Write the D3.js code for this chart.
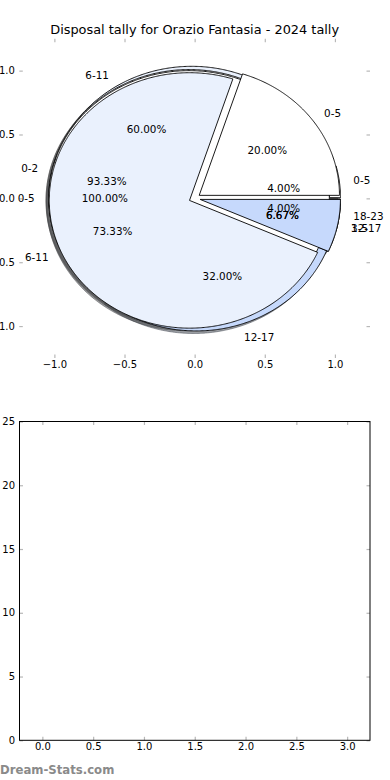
<!DOCTYPE html>
<html><head><meta charset="utf-8">
<script src="https://cdn.jsdelivr.net/npm/d3@7"></script>
<style>
body{margin:0;background:#fff}
svg{display:block}
text{font-family:"DejaVu Sans",sans-serif}
</style>
</head><body><svg id="c" width="390" height="780"></svg>
<script>
// ---------------- data ----------------
const titleText = "Disposal tally for Orazio Fantasia - 2024 tally";
// pies, listed in drawing order (bottom to top)
const pieALabels = ["0-5", "6-11", "12-17", "18-23"];
const pieAValues = [1, 15, 8, 1];
const pieBLabels = ["0-2", "3-5"];
const pieBValues = [14, 1];
const pieCLabels = ["0-5"];
const pieCValues = [1];
const pieDLabels = ["0-5", "6-11", "12-17"];
const pieDValues = [3, 11, 1];
const sliceColors = ["#ffffff", "#eaf1fd", "#c6d9fc", "#9dbdf7"];
const pieTicks = [-1.0, -0.5, 0.0, 0.5, 1.0];
const barCategories = [0, 1, 2, 3];
const barValues = [0, 0, 0, 0];
const barXTicks = [0, 0.5, 1, 1.5, 2, 2.5, 3];
const barYTicks = [0, 5, 10, 15, 20, 25];
const watermark = "Dream-Stats.com";

// ---------------- setup ----------------
const svg = d3.select("#c");
const PX0 = 19.3, PX1 = 370, PY0 = 38.7, PY1 = 358;
const xs = d3.scaleLinear().domain([-1.25, 1.25]).range([PX0, PX1]);
const ys = d3.scaleLinear().domain([-1.25, 1.25]).range([PY1, PY0]);
const EXPLODE = 0.04, SHADOW = 0.02, R = 1;
const TICKC = "#b8b8b8";

const pies = [
  {labels: pieALabels, values: pieAValues},
  {labels: pieBLabels, values: pieBValues},
  {labels: pieCLabels, values: pieCValues},
  {labels: pieDLabels, values: pieDValues}
];

const pieGen = d3.pie().sort(null).value(d => d.v)
  .startAngle(Math.PI / 2).endAngle(-1.5 * Math.PI);
const line = d3.line().x(p => xs(p[0])).y(p => ys(p[1]));

function wedgePts(cx, cy, t1, t2) {
  const full = Math.abs((t2 - t1) - 2 * Math.PI) < 1e-9;
  const n = Math.max(2, Math.ceil((t2 - t1) / (Math.PI / 360)));
  const pts = [];
  if (!full) pts.push([cx, cy]);
  for (let i = 0; i <= n; i++) {
    const t = t1 + (t2 - t1) * i / n;
    pts.push([cx + R * Math.cos(t), cy + R * Math.sin(t)]);
  }
  return pts;
}

const wedges = [];
pies.forEach((p, pi) => {
  const data = p.values.map((v, i) => ({v, label: p.labels[i], i}));
  const total = d3.sum(p.values);
  pieGen(data).forEach(a => {
    const t1 = Math.PI / 2 - a.startAngle, t2 = Math.PI / 2 - a.endAngle;
    const mid = (t1 + t2) / 2;
    const cx = EXPLODE * Math.cos(mid), cy = EXPLODE * Math.sin(mid);
    wedges.push({pi, t1, t2, mid, cx, cy, label: a.data.label,
      pct: (a.data.v / total * 100).toFixed(2) + "%",
      color: sliceColors[a.data.i % sliceColors.length]});
  });
});

// ---------------- title ----------------
svg.append("text").attr("x", (PX0 + PX1) / 2).attr("y", 34)
  .attr("text-anchor", "middle").attr("font-size", 12.9).attr("fill", "#000")
  .text(titleText);

// ---------------- pie axes ticks ----------------
const pg = svg.append("g");
function styleAxis(g) {
  g.select(".domain").remove();
  g.selectAll(".tick line").attr("stroke", TICKC).attr("stroke-width", 1.2);
  g.selectAll(".tick text").attr("fill", "#000").attr("font-size", 10)
    .attr("font-family", "DejaVu Sans, sans-serif");
}
pg.append("g").attr("transform", `translate(${PX0},0)`)
  .call(d3.axisLeft(ys).tickValues(pieTicks).tickFormat(d3.format(".1f")).tickSize(-3.5).tickPadding(4.5))
  .call(styleAxis);
pg.append("g").attr("transform", `translate(${PX1},0)`)
  .call(d3.axisRight(ys).tickValues(pieTicks).tickFormat("").tickSize(-3.5))
  .call(styleAxis);
pg.append("g").attr("transform", `translate(0,${PY0})`)
  .call(d3.axisTop(xs).tickValues(pieTicks).tickFormat("").tickSize(-3.5))
  .call(styleAxis);
pg.append("g").attr("transform", `translate(0,${PY1})`)
  .call(d3.axisBottom(xs).tickValues(pieTicks).tickFormat(d3.format(".1f")).tickSize(-3.5).tickPadding(3))
  .call(styleAxis);

// ---------------- shadows (all under all wedges) ----------------
const sg = svg.append("g");
wedges.forEach(w => {
  const c = d3.rgb(w.color);
  const sc = d3.rgb(c.r * 0.3, c.g * 0.3, c.b * 0.3);
  sg.append("path")
    .attr("d", line(wedgePts(w.cx - SHADOW, w.cy - SHADOW, w.t1, w.t2)) + (Math.abs(w.t2 - w.t1 - 2*Math.PI) < 1e-9 ? "" : "Z"))
    .attr("fill", sc).attr("fill-opacity", 0.5)
    .attr("stroke", sc).attr("stroke-opacity", 0.5).attr("stroke-width", 1);
});

// ---------------- wedges ----------------
const wg = svg.append("g");
wedges.forEach(w => {
  wg.append("path")
    .attr("d", line(wedgePts(w.cx, w.cy, w.t1, w.t2)) + "Z")
    .attr("fill", w.color)
    .attr("stroke", "#000").attr("stroke-width", 0.9).attr("stroke-linejoin", "miter");
});

// ---------------- pie texts ----------------
const tg = svg.append("g").attr("font-size", 10.4).attr("fill", "#000");
wedges.forEach(w => {
  const xt = w.cx + 1.1 * R * Math.cos(w.mid), yt = w.cy + 1.1 * R * Math.sin(w.mid);
  tg.append("text").attr("x", xs(xt)).attr("y", ys(yt))
    .attr("dy", "0.36em")
    .attr("text-anchor", xt > 0 ? "start" : "end").text(w.label);
  const xp = w.cx + 0.6 * R * Math.cos(w.mid), yp = w.cy + 0.6 * R * Math.sin(w.mid);
  tg.append("text").attr("x", xs(xp)).attr("y", ys(yp))
    .attr("dy", "0.36em")
    .attr("text-anchor", "middle").text(w.pct);
});

// ---------------- bottom (empty) bar chart ----------------
const BX0 = 19.5, BX1 = 370, BY0 = 421.5, BY1 = 740.3;
const xb = d3.scaleLinear().domain([-0.225, 3.225]).range([BX0, BX1]);
const yb = d3.scaleLinear().domain([0, 25]).range([BY1, BY0]);
const bg = svg.append("g");
bg.selectAll("rect.bar").data(barCategories).join("rect").attr("class", "bar")
  .attr("x", d => xb(d - 0.225)).attr("width", xb(0.45) - xb(0))
  .attr("y", (d, i) => yb(barValues[i])).attr("height", (d, i) => yb(0) - yb(barValues[i]))
  .attr("fill", "#6495ed");
bg.append("g").attr("transform", `translate(${BX0},0)`)
  .call(d3.axisLeft(yb).tickValues(barYTicks).tickFormat(d3.format("d")).tickSize(-3.5).tickPadding(4.5))
  .call(styleAxis);
bg.append("g").attr("transform", `translate(${BX1},0)`)
  .call(d3.axisRight(yb).tickValues(barYTicks).tickFormat("").tickSize(-3.5))
  .call(styleAxis);
bg.append("g").attr("transform", `translate(0,${BY0})`)
  .call(d3.axisTop(xb).tickValues(barXTicks).tickFormat("").tickSize(-3.5))
  .call(styleAxis);
bg.append("g").attr("transform", `translate(0,${BY1})`)
  .call(d3.axisBottom(xb).tickValues(barXTicks).tickFormat(d3.format(".1f")).tickSize(-3.5).tickPadding(3))
  .call(styleAxis);
bg.append("rect").attr("x", BX0).attr("y", BY0).attr("width", BX1 - BX0).attr("height", BY1 - BY0)
  .attr("fill", "none").attr("stroke", "#000").attr("stroke-width", 1);

// ---------------- watermark ----------------
svg.append("text").attr("x", 0).attr("y", 774).attr("font-size", 11.7)
  .attr("fill", "#8a8a8a").attr("font-weight", "bold").text(watermark);
</script>
</body></html>
